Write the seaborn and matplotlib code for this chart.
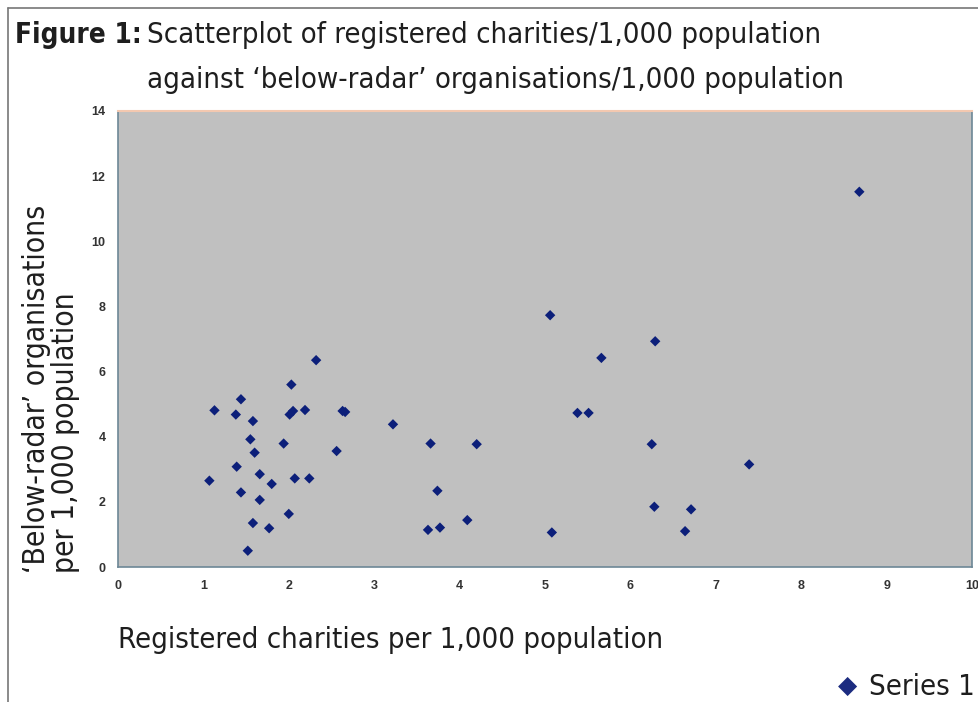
import matplotlib
matplotlib.use('Agg')
import matplotlib.pyplot as plt
from matplotlib import font_manager
from matplotlib.lines import Line2D
import seaborn as sns
import pandas as pd

# values
charities = [1.07, 1.13, 1.38, 1.39, 1.44, 1.44, 1.52, 1.55, 1.58, 1.58, 1.60, 1.66,
             1.66, 1.77, 1.80, 1.94, 2.00, 2.01, 2.03, 2.05, 2.07, 2.19, 2.24, 2.32,
             2.56, 2.63, 2.66, 3.22, 3.63, 3.66, 3.74, 3.77, 4.09, 4.20, 5.06, 5.08,
             5.38, 5.51, 5.66, 6.25, 6.28, 6.29, 6.64, 6.71, 7.39, 8.68]
below_radar = [2.65, 4.81, 4.68, 3.08, 5.15, 2.29, 0.50, 3.92, 4.48, 1.35, 3.51, 2.85,
               2.06, 1.19, 2.55, 3.79, 1.63, 4.68, 5.60, 4.79, 2.72, 4.82, 2.72, 6.35,
               3.56, 4.79, 4.76, 4.38, 1.14, 3.79, 2.34, 1.21, 1.44, 3.77, 7.73, 1.06,
               4.73, 4.73, 6.42, 3.77, 1.85, 6.93, 1.10, 1.77, 3.15, 11.52]
x_ticks = list(range(0, 11))
y_ticks = list(range(0, 15, 2))

df = pd.DataFrame({'charities': charities, 'below_radar': below_radar})

sns.set_style('white')
names = {f.name for f in font_manager.fontManager.ttflist}
if 'Liberation Sans Narrow' in names:
    narrow = dict(family='Liberation Sans Narrow')
else:
    narrow = dict(family='DejaVu Sans', stretch='condensed')
plt.rcParams['font.family'] = ['Liberation Sans', 'DejaVu Sans']

fig = plt.figure(figsize=(9.79, 7.02), dpi=100)
ax = fig.add_axes([0.1205, 0.1923, 0.8724, 0.6496])
ax.set_facecolor('#c0c0c0')

sns.scatterplot(data=df, x='charities', y='below_radar', marker='D', s=28,
                color='#0c1f7a', edgecolor='none', ax=ax, legend=False)

ax.set_xlim(0, 10)
ax.set_ylim(0, 14)
ax.set_xticks(x_ticks)
ax.set_yticks(y_ticks)
ax.set_xlabel('')
ax.set_ylabel('')
ax.tick_params(labelsize=9, colors='#333333', length=3, width=0.8, pad=6)
ax.tick_params(axis='both', color='#8fb4d0')
for lab in ax.get_xticklabels() + ax.get_yticklabels():
    lab.set_fontweight('bold')
for side in ['left', 'bottom', 'right']:
    ax.spines[side].set_color('#6d8796')
    ax.spines[side].set_linewidth(1.2)
ax.spines['top'].set_color('#f3c8b0')
ax.spines['top'].set_linewidth(1.5)

# frame lines round the figure
fig.add_artist(Line2D([8 / 979, 8 / 979], [0, 1 - 8 / 702], color='#777777', lw=1.2))
fig.add_artist(Line2D([8 / 979, 1], [1 - 8 / 702, 1 - 8 / 702], color='#777777', lw=1.2))

# title
fig.text(142 / 979, 1 - 35 / 702, 'Figure 1:', fontsize=20, fontweight='bold',
         va='center', ha='right', color='#1e1e1e', **narrow)
fig.text(147 / 979, 1 - 35 / 702, 'Scatterplot of registered charities/1,000 population',
         fontsize=21, va='center', ha='left', color='#1e1e1e', **narrow)
fig.text(147 / 979, 1 - 80 / 702, 'against \u2018below-radar\u2019 organisations/1,000 population',
         fontsize=21, va='center', ha='left', color='#1e1e1e', **narrow)

# axis titles
fig.text(51 / 979, 1 - 573 / 702, '\u2018Below-radar\u2019 organisations\nper 1,000 population',
         fontsize=21.5, rotation=90, ha='center', va='bottom', multialignment='left',
         linespacing=1.0, color='#1e1e1e', **narrow)
fig.text(118 / 979, 1 - 640 / 702, 'Registered charities per 1,000 population',
         fontsize=21, va='center', ha='left', color='#1e1e1e', **narrow)

# legend
fig.text(838 / 979, 1 - 686 / 702, '\u25c6', fontsize=18, color='#1c2c80',
         va='center', ha='left', family='DejaVu Sans')
fig.text(975 / 979, 1 - 687 / 702, 'Series 1', fontsize=21, va='center', ha='right',
         color='#1e1e1e', **narrow)

fig.savefig('out.png', dpi=100)
